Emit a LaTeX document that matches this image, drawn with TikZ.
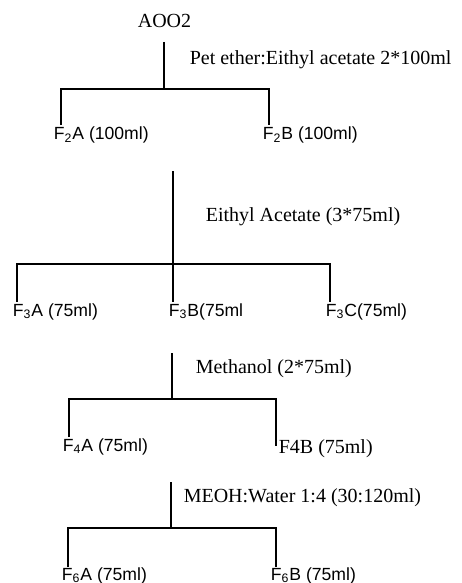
\documentclass[tikz,border=0pt]{standalone}
\usepackage{fontspec}
\setmainfont{Liberation Serif}
\newfontfamily\arialfont{Liberation Sans}
\usepackage{tikz}

\begin{document}
\begin{tikzpicture}
            [x=0.5pt,y=-0.5pt,line width=0.8pt,
             solvent/.style={anchor=base west,inner sep=0pt,font=\fontsize{10}{12}\selectfont},
             frac/.style={anchor=base west,inner sep=0pt,font=\arialfont\fontsize{8.8}{10}\selectfont}]
            \useasboundingbox (0,0) rectangle (461,583);

            % step 1
            \node[solvent,anchor=base] (AOO2) at (164.5,28) {AOO2};
            \node[solvent] (S1) at (189,65) {Pet ether:Eithyl acetate 2*100ml};
            \coordinate (T1) at (164,42);
            \coordinate (J1) at (164,89);
            \coordinate (L1) at (61,89);
            \coordinate (R1) at (269,89);
            \coordinate (L1b) at (61,125);
            \coordinate (R1b) at (269,125);
            \node[frac] (F2A) at (53,140) {F\textsubscript{2}A (100ml)};
            \node[frac] (F2B) at (262,140) {F\textsubscript{2}B (100ml)};
            \draw (T1) -- (J1);
            \draw (L1b) -- (L1) -- (R1) -- (R1b);

            % step 2
            \node[solvent] (S2) at (205,221) {Eithyl Acetate (3*75ml)};
            \coordinate (T2) at (173,171);
            \coordinate (J2) at (173,264);
            \coordinate (L2) at (17,264);
            \coordinate (R2) at (330,264);
            \coordinate (L2b) at (17,302);
            \coordinate (M2b) at (173,302);
            \coordinate (R2b) at (330,302);
            \node[frac] (F3A) at (12,316) {F\textsubscript{3}A (75ml)};
            \node[frac] (F3B) at (168,316) {F\textsubscript{3}B(75ml};
            \node[frac] (F3C) at (325,316) {F\textsubscript{3}C(75ml)};
            \draw (T2) -- (M2b);
            \draw (L2b) -- (L2) -- (R2) -- (R2b);

            % step 3
            \node[solvent] (S3) at (195,373) {Methanol (2*75ml)};
            \coordinate (T3) at (172,353);
            \coordinate (J3) at (172,399);
            \coordinate (L3) at (69,399);
            \coordinate (R3) at (276,399);
            \coordinate (L3b) at (69,437);
            \coordinate (R3b) at (276,446);
            \node[frac] (F4A) at (62,451) {F\textsubscript{4}A (75ml)};
            \node[solvent] (F4B) at (278,453) {F4B (75ml)};
            \draw (T3) -- (J3);
            \draw (L3b) -- (L3) -- (R3) -- (R3b);

            % step 4
            \node[solvent] (S4) at (183,502) {MEOH:Water 1:4 (30:120ml)};
            \coordinate (T4) at (171,482);
            \coordinate (J4) at (171,528);
            \coordinate (L4) at (68,528);
            \coordinate (R4) at (276,528);
            \coordinate (L4b) at (68,567);
            \coordinate (R4b) at (276,567);
            \node[frac] (F6A) at (61,580) {F\textsubscript{6}A (75ml)};
            \node[frac] (F6B) at (270,580) {F\textsubscript{6}B (75ml)};
            \draw (T4) -- (J4);
            \draw (L4b) -- (L4) -- (R4) -- (R4b);
        \end{tikzpicture}
\end{document}
